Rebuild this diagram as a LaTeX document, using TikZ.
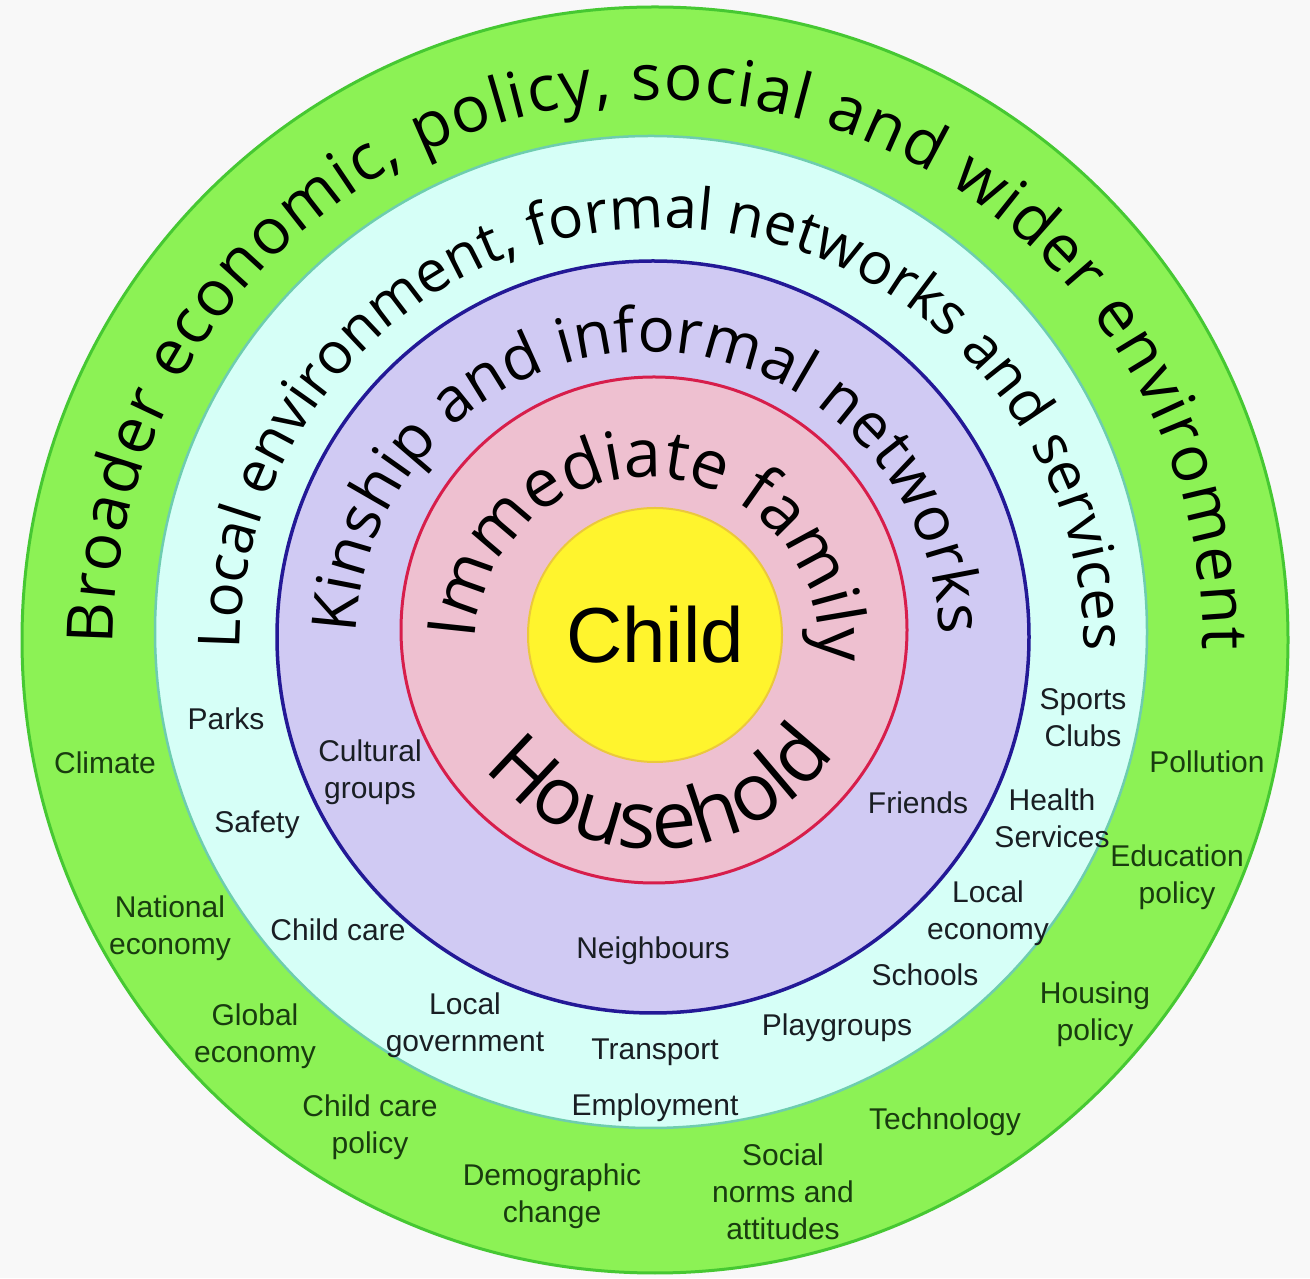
\documentclass[tikz,border=0pt]{standalone}
\usepackage{fontspec}
\setmainfont{Liberation Sans}
\newfontfamily\arcfont{Open Sans}
\usetikzlibrary{decorations.text}
\definecolor{bgc}{RGB}{248,248,248}
\definecolor{greenfill}{RGB}{140,242,85}
\definecolor{greenline}{RGB}{70,200,50}
\definecolor{cyanfill}{RGB}{214,255,247}
\definecolor{cyanline}{RGB}{110,205,175}
\definecolor{purplefill}{RGB}{208,202,243}
\definecolor{navyline}{RGB}{35,25,150}
\definecolor{pinkfill}{RGB}{238,192,208}
\definecolor{redline}{RGB}{215,30,75}
\definecolor{yellowfill}{RGB}{255,244,45}
\definecolor{yellowline}{RGB}{235,200,60}
\definecolor{gtext}{RGB}{25,60,15}
\definecolor{dtext}{RGB}{25,30,35}
\tikzset{
  ring/.style={circle, inner sep=0pt, outer sep=0pt},
  lbl/.style={align=center, inner sep=1pt, font=\fontsize{30}{37}\selectfont, text=dtext},
  glbl/.style={lbl, text=gtext},
}
\begin{document}
\begin{tikzpicture}[x=1pt,y=1pt]
\useasboundingbox (0,0) rectangle (1310,1278);
\fill[bgc] (0,0) rectangle (1310,1278);
% rings
\node[ring, fill=greenfill, draw=greenline, line width=3pt, minimum size=1266pt] (outer) at (655,638) {};
\node[ring, fill=cyanfill, draw=cyanline, line width=2.5pt, minimum size=992pt] (local) at (651,646) {};
\node[ring, fill=purplefill, draw=navyline, line width=3.5pt, minimum size=752pt] (kin) at (653,641) {};
\node[ring, fill=pinkfill, draw=redline, line width=3pt, minimum size=506pt] (family) at (654,648) {};
\node[ring, fill=yellowfill, draw=yellowline, line width=2pt, minimum size=254pt] (child) at (655,643) {};
\node[font=\fontsize{78}{78}\selectfont, text=black] (childtxt) at (655,643) {Child};
% curved titles
\path[decorate, decoration={text along path, text align=fit to path,
  text={|\arcfont\fontsize{64}{64}\selectfont\color{black}|Broader economic, policy, social and wider enviroment}}]
  (658,633) ++(180:545) arc[start angle=180, end angle=-0.5, radius=545];
\path[decorate, decoration={text along path, text align=fit to path,
  text={|\arcfont\fontsize{58}{58}\selectfont\color{black}|Local environment, formal networks and services}}]
  (662,628) ++(180:422) arc[start angle=180, end angle=0, radius=422];
\path[decorate, decoration={text along path, text align=fit to path,
  text={|\arcfont\fontsize{62}{62}\selectfont\color{black}|Kinship and informal networks}}]
  (648,634) ++(178:292) arc[start angle=178, end angle=1.8, radius=292];
\path[decorate, decoration={text along path, text align=fit to path,
  text={|\arcfont\fontsize{67}{67}\selectfont\color{black}|Immediate family}}]
  (647,629) ++(177:172) arc[start angle=177, end angle=1, radius=172];
\path[decorate, decoration={text along path, text align=fit to path,
  text={|\arcfont\fontsize{80}{80}\selectfont\color{black}|Household}}]
  (654,647) ++(219:218) arc[start angle=219, end angle=323, radius=218];
% outer ring labels
\node[glbl] (climate) at (105,515) {Climate};
\node[glbl] (nateco) at (170,350) {National\\economy};
\node[glbl] (globeco) at (255,242) {Global\\economy};
\node[glbl] (ccpolicy) at (370,151) {Child care\\policy};
\node[glbl] (demo) at (552,82) {Demographic\\change};
\node[glbl] (social) at (783,86) {Social\\norms and\\attitudes};
\node[glbl] (tech) at (945,156) {Technology};
\node[glbl] (housing) at (1095,264) {Housing\\policy};
\node[glbl] (edu) at (1177,401) {Education\\policy};
\node[glbl] (pollution) at (1207,516) {Pollution};
% local ring labels
\node[lbl] (parks) at (226,559) {Parks};
\node[lbl] (safety) at (257,453) {Safety};
\node[lbl] (childcare) at (338,348) {Child care};
\node[lbl] (localgov) at (465,253) {Local\\government};
\node[lbl] (transport) at (655,226) {Transport};
\node[lbl] (employment) at (655,170) {Employment};
\node[lbl] (playgroups) at (837,250) {Playgroups};
\node[lbl] (schools) at (925,303) {Schools};
\node[lbl] (localeco) at (988,365) {Local\\economy};
\node[lbl] (health) at (1052,460) {Health\\Services};
\node[lbl] (sports) at (1083,560) {Sports\\Clubs};
% kinship ring labels
\node[lbl] (cultural) at (370,506) {Cultural\\groups};
\node[lbl] (friends) at (918,475) {Friends};
\node[lbl] (neighbours) at (653,327) {Neighbours};
\end{tikzpicture}
\end{document}
